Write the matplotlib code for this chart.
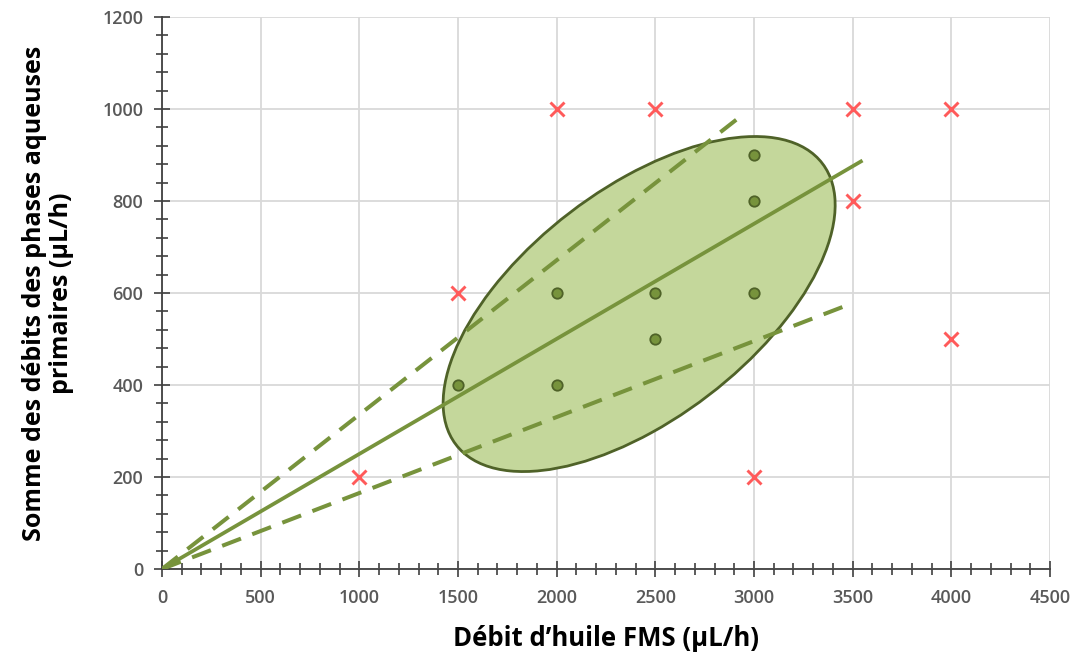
import matplotlib.pyplot as plt
from matplotlib.patches import Ellipse
from matplotlib.ticker import MultipleLocator

plt.rcParams['font.family'] = ['Open Sans', 'DejaVu Sans']

# data
ok_x = [1500, 2000, 2000, 2500, 2500, 3000, 3000, 3000]
ok_y = [400, 400, 600, 500, 600, 600, 800, 900]
bad_x = [1000, 1500, 2000, 2500, 3000, 3500, 3500, 4000, 4000]
bad_y = [200, 600, 1000, 1000, 200, 1000, 800, 1000, 500]

trend_x = [0, 3550]
trend_y = [0, 888]
upper_x = [0, 2950]
upper_y = [0, 990]
lower_x = [0, 3500]
lower_y = [0, 578]

# ellipse (data coords)
ell_center = (2418, 576)
ell_w, ell_h, ell_angle = 2037, 573, 13.3

green = '#77933c'
dark_green = '#4f6228'
red = '#ff5a5a'

fig = plt.figure(figsize=(10.78, 6.59), dpi=100)
ax = fig.add_axes([0.1503, 0.1366, 0.8237, 0.8376])

ax.add_patch(Ellipse(ell_center, ell_w, ell_h, angle=ell_angle,
                     facecolor='#c4d79b', edgecolor=dark_green, lw=2, zorder=2))

ax.plot(trend_x, trend_y, color=green, lw=2.7, zorder=3, solid_capstyle='butt')
ax.plot(upper_x, upper_y, color=green, lw=2.9, ls=(0, (5, 3)), zorder=3)
ax.plot(lower_x, lower_y, color=green, lw=2.9, ls=(0, (5, 3)), zorder=3)

ax.plot(ok_x, ok_y, 'o', ms=7.5, mfc=green, mec=dark_green, mew=1.3, zorder=4)
ax.plot(bad_x, bad_y, 'x', ms=10.5, mec=red, mew=2.1, zorder=4)

ax.set_xlim(0, 4500)
ax.set_ylim(0, 1200)
ax.xaxis.set_major_locator(MultipleLocator(500))
ax.xaxis.set_minor_locator(MultipleLocator(100))
ax.yaxis.set_major_locator(MultipleLocator(200))
ax.yaxis.set_minor_locator(MultipleLocator(40))

ax.grid(True, which='major', color='#d9d9d9', lw=1.3, zorder=0)
ax.set_axisbelow(True)
for s in ['top', 'right']:
    ax.spines[s].set_visible(False)
for s in ['left', 'bottom']:
    ax.spines[s].set_color('#404040')
    ax.spines[s].set_linewidth(1.3)

ax.tick_params(which='major', direction='inout', length=11, width=1.2,
               color='#404040', labelsize=13, labelcolor='#595959')
ax.tick_params(axis='x', which='major', pad=9)
ax.tick_params(axis='y', which='major', pad=8)
ax.tick_params(which='minor', direction='inout', length=8, width=1.2, color='#404040')
for lab in ax.get_xticklabels() + ax.get_yticklabels():
    lab.set_fontweight('semibold')

ax.set_xlabel('Débit d\u2019huile FMS (µL/h)', fontsize=18.5, fontweight='bold', labelpad=13)
ax.set_ylabel('Somme des débits des phases aqueuses\nprimaires (µL/h)', fontsize=18,
              fontweight='bold', labelpad=20, linespacing=1.15)

fig.savefig('out.png', dpi=100)
